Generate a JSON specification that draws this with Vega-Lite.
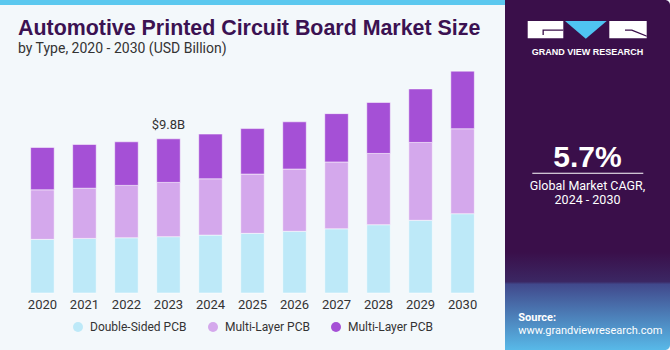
{
  "$schema": "https://vega.github.io/schema/vega-lite/v6.json",
  "background": "#f3f8fb",
  "padding": 0,
  "spacing": 0,
  "config": {"view": {"stroke": null}, "font": "Roboto", "legend": {"layout": {"bottom": {"anchor": "middle"}}}},
  "hconcat": [
    {
      "spacing": 12,
      "resolve": {"scale": {"color": "independent"}, "legend": {"color": "independent"}},
      "vconcat": [
        {
          "width": 505,
          "height": 5,
          "data": {"values": [{"part": "stripe"}]},
          "mark": {"type": "rect", "color": "#5bc8ef"},
          "encoding": {}
        },
        {
          "width": 505,
          "height": 236,
          "title": {
            "text": "Automotive Printed Circuit Board Market Size",
            "subtitle": "by Type, 2020 - 2030 (USD Billion)",
            "anchor": "start",
            "dx": 18,
            "font": "Liberation Sans",
            "fontSize": 21.4,
            "fontWeight": "bold",
            "color": "#3b1252",
            "subtitleFont": "Roboto",
            "subtitleFontSize": 14,
            "subtitleColor": "#333333",
            "subtitlePadding": 3,
            "offset": 1
          },
          "data": {
            "values": [
              {"year": 2020, "type": "Double-Sided PCB", "value": 3.41},
              {"year": 2020, "type": "Multi-Layer PCB", "value": 3.15},
              {"year": 2020, "type": "Multi-Layer PCB #2", "value": 2.69},
              {"year": 2021, "type": "Double-Sided PCB", "value": 3.47},
              {"year": 2021, "type": "Multi-Layer PCB", "value": 3.19},
              {"year": 2021, "type": "Multi-Layer PCB #2", "value": 2.78},
              {"year": 2022, "type": "Double-Sided PCB", "value": 3.51},
              {"year": 2022, "type": "Multi-Layer PCB", "value": 3.33},
              {"year": 2022, "type": "Multi-Layer PCB #2", "value": 2.77},
              {"year": 2023, "type": "Double-Sided PCB", "value": 3.58},
              {"year": 2023, "type": "Multi-Layer PCB", "value": 3.45},
              {"year": 2023, "type": "Multi-Layer PCB #2", "value": 2.77},
              {"year": 2024, "type": "Double-Sided PCB", "value": 3.68},
              {"year": 2024, "type": "Multi-Layer PCB", "value": 3.58},
              {"year": 2024, "type": "Multi-Layer PCB #2", "value": 2.84},
              {"year": 2025, "type": "Double-Sided PCB", "value": 3.79},
              {"year": 2025, "type": "Multi-Layer PCB", "value": 3.77},
              {"year": 2025, "type": "Multi-Layer PCB #2", "value": 2.89},
              {"year": 2026, "type": "Double-Sided PCB", "value": 3.92},
              {"year": 2026, "type": "Multi-Layer PCB", "value": 3.96},
              {"year": 2026, "type": "Multi-Layer PCB #2", "value": 3.0},
              {"year": 2027, "type": "Double-Sided PCB", "value": 4.08},
              {"year": 2027, "type": "Multi-Layer PCB", "value": 4.25},
              {"year": 2027, "type": "Multi-Layer PCB #2", "value": 3.07},
              {"year": 2028, "type": "Double-Sided PCB", "value": 4.34},
              {"year": 2028, "type": "Multi-Layer PCB", "value": 4.53},
              {"year": 2028, "type": "Multi-Layer PCB #2", "value": 3.24},
              {"year": 2029, "type": "Double-Sided PCB", "value": 4.62},
              {"year": 2029, "type": "Multi-Layer PCB", "value": 4.95},
              {"year": 2029, "type": "Multi-Layer PCB #2", "value": 3.4},
              {"year": 2030, "type": "Double-Sided PCB", "value": 5.04},
              {"year": 2030, "type": "Multi-Layer PCB", "value": 5.4},
              {"year": 2030, "type": "Multi-Layer PCB #2", "value": 3.66}
            ]
          },
          "layer": [
            {
              "mark": {"type": "bar", "stroke": "#ffffff", "strokeOpacity": 0.5, "strokeWidth": 1},
              "encoding": {
                "x": {
                  "field": "year", "type": "ordinal",
                  "scale": {"paddingInner": 0.44, "paddingOuter": 0.73},
                  "axis": {"title": null, "domain": false, "ticks": false, "labelAngle": 0, "labelFont": "Roboto", "labelFontSize": 13, "labelColor": "#333333", "labelPadding": 5}
                },
                "y": {"field": "value", "type": "quantitative", "stack": "zero", "scale": {"domain": [0, 15], "nice": false}, "axis": null},
                "order": {"field": "type", "type": "nominal", "sort": "ascending"},
                "color": {
                  "field": "type", "type": "nominal",
                  "scale": {"domain": ["Double-Sided PCB", "Multi-Layer PCB", "Multi-Layer PCB #2"], "range": ["#bde9f8", "#d4a8ec", "#a550d6"]},
                  "legend": {
                    "title": null, "orient": "bottom", "direction": "horizontal",
                    "symbolType": "circle", "symbolSize": 100, "symbolStrokeWidth": 0,
                    "labelFont": "Roboto", "labelFontSize": 12, "labelColor": "#333333",
                    "columnPadding": 20, "labelOffset": 6, "offset": 10,
                    "labelExpr": "replace(datum.label, ' #2', '')"
                  }
                }
              }
            },
            {
              "data": {"values": [{"year": 2023, "total": 9.8, "label": "$9.8B"}]},
              "mark": {"type": "text", "baseline": "alphabetic", "dy": -10, "fontSize": 13, "font": "Roboto", "color": "#333333"},
              "encoding": {
                "x": {"field": "year", "type": "ordinal"},
                "y": {"field": "total", "type": "quantitative", "scale": {"domain": [0, 15], "nice": false}},
                "text": {"field": "label"}
              }
            }
          ]
        }
      ]
    },
    {
      "width": 165,
      "height": 350,
      "layer": [
        {
          "data": {"values": [{"part": "panel"}]},
          "mark": {
            "type": "rect",
            "cornerRadiusTopRight": 5,
            "cornerRadiusBottomRight": 5,
            "color": {
              "gradient": "linear", "x1": 0, "y1": 0, "x2": 0, "y2": 1,
              "stops": [
                {"offset": 0, "color": "#3a0f4a"},
                {"offset": 0.72, "color": "#3a0f4a"},
                {"offset": 0.805, "color": "#3b2763"},
                {"offset": 0.812, "color": "#41498c"},
                {"offset": 1, "color": "#58b9e8"}
              ]
            }
          },
          "encoding": {}
        },
        {
          "data": {"values": [{"part": "logo"}]},
          "mark": {
            "type": "point", "filled": true, "opacity": 1, "color": "#ffffff", "size": 122500,
            "shape": "M-0.3417,-0.88L-0.1383,-0.88L-0.1383,-0.7811L-0.3417,-0.7811Z M0.1246,-0.88L0.3383,-0.88L0.3383,-0.7811L0.1246,-0.7811Z M-0.3154,-0.0126L0.3189,-0.0126L0.3189,-0.0069L-0.3154,-0.0069Z"
          },
          "encoding": {}
        },
        {
          "data": {"values": [{"part": "logo triangle"}]},
          "mark": {
            "type": "point", "filled": true, "opacity": 1, "color": "#4fc4f2", "size": 122500,
            "shape": "M-0.1286,-0.88L0.1097,-0.88L-0.0097,-0.779Z"
          },
          "encoding": {}
        },
        {
          "data": {"values": [{"part": "logo cut"}]},
          "mark": {
            "type": "point", "filled": true, "opacity": 1, "color": "#3a0f4a", "size": 122500,
            "shape": "M-0.2571,-0.8314L-0.1383,-0.8314L-0.1383,-0.824L-0.2497,-0.824L-0.2497,-0.8L-0.2571,-0.8Z M0.2143,-0.8314L0.2543,-0.8314L0.3383,-0.7971L0.3383,-0.7897L0.2514,-0.824L0.2143,-0.824Z"
          },
          "encoding": {}
        },
        {
          "data": {"values": [{"t": "GRAND VIEW RESEARCH"}]},
          "mark": {"type": "text", "baseline": "alphabetic", "dy": -120, "font": "Liberation Sans", "fontWeight": "bold", "fontSize": 9, "letterSpacing": 0.45, "color": "#ffffff"},
          "encoding": {"text": {"field": "t"}}
        },
        {
          "data": {"values": [{"t": "5.7%"}]},
          "mark": {"type": "text", "baseline": "alphabetic", "dy": -8.3, "font": "Liberation Sans", "fontWeight": "bold", "fontSize": 30, "color": "#ffffff"},
          "encoding": {"text": {"field": "t"}}
        },
        {
          "data": {"values": [{"t": "Global Market CAGR,"}]},
          "mark": {"type": "text", "baseline": "alphabetic", "dy": 15, "font": "Roboto", "fontSize": 12.5, "color": "#ffffff"},
          "encoding": {"text": {"field": "t"}}
        },
        {
          "data": {"values": [{"t": "2024 - 2030"}]},
          "mark": {"type": "text", "baseline": "alphabetic", "dy": 28.5, "font": "Roboto", "fontSize": 12.5, "color": "#ffffff"},
          "encoding": {"text": {"field": "t"}}
        },
        {
          "data": {"values": [{"t": "Source:"}]},
          "mark": {"type": "text", "align": "left", "baseline": "alphabetic", "dx": -69.2, "dy": 145.5, "font": "Roboto", "fontWeight": "bold", "fontSize": 11, "color": "#ffffff"},
          "encoding": {"text": {"field": "t"}}
        },
        {
          "data": {"values": [{"t": "www.grandviewresearch.com"}]},
          "mark": {"type": "text", "align": "left", "baseline": "alphabetic", "dx": -69.2, "dy": 158.5, "font": "Roboto", "fontSize": 11, "letterSpacing": -0.2, "color": "#ffffff"},
          "encoding": {"text": {"field": "t"}}
        }
      ]
    }
  ]
}
